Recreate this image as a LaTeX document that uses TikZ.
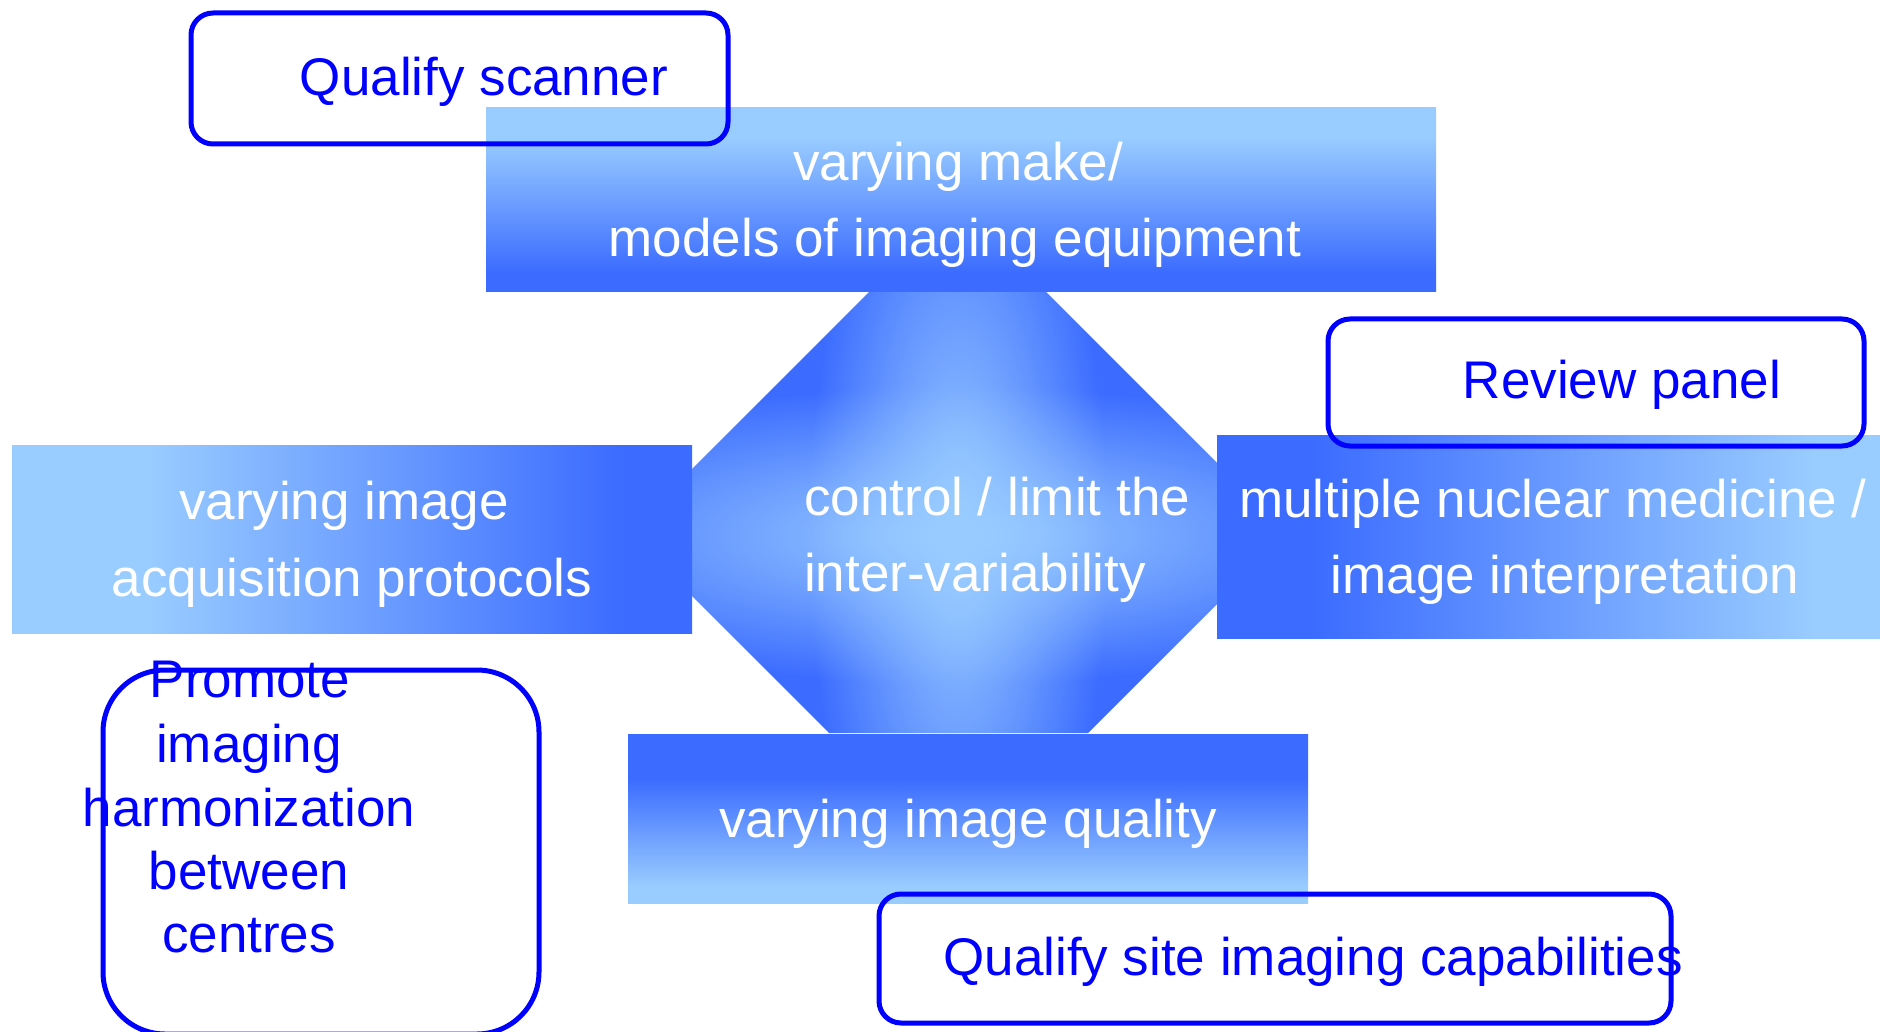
\documentclass[tikz,border=0pt]{standalone}
\usepackage{fontspec}
\setmainfont{Liberation Sans}
\usetikzlibrary{fadings}
\tikzfading[name=radfade, inner color=transparent!0, outer color=transparent!100]
\definecolor{lt}{RGB}{153,204,255}
\definecolor{dk}{RGB}{59,107,255}
\definecolor{pen}{RGB}{0,0,255}
\pgfdeclareverticalshading{topgrad}{100bp}{color(0bp)=(dk); color(30bp)=(dk); color(67bp)=(lt); color(100bp)=(lt)}
\pgfdeclareverticalshading{botgrad}{100bp}{color(0bp)=(lt); color(30bp)=(lt); color(62bp)=(dk); color(100bp)=(dk)}
\pgfdeclarehorizontalshading{leftgrad}{100bp}{color(0bp)=(lt); color(35bp)=(lt); color(70bp)=(dk); color(100bp)=(dk)}
\pgfdeclarehorizontalshading{rightgrad}{100bp}{color(0bp)=(dk); color(32bp)=(dk); color(70bp)=(lt); color(100bp)=(lt)}
\begin{document}
\begin{tikzpicture}[x=1pt,y=-1pt,
  bar/.style={shade, inner sep=0pt, outer sep=0pt, draw=none},
  bigfont/.style={font=\fontsize{53pt}{64pt}\selectfont},
  wtext/.style={bigfont, text=white, inner sep=0pt, anchor=base},
  btext/.style={bigfont, text=pen, inner sep=0pt, anchor=base},
  tbox/.style={draw=pen, line width=5pt, rounded corners=22pt, inner sep=0pt}]
\useasboundingbox (0,0) rectangle (1880,1032);
\clip (0,0) rectangle (1880,1032);

% central octagon with star-like light centre
\begin{scope}
\clip (870,291) -- (1045,291) -- (1217,463) -- (1217,604) -- (1088,733) -- (829,733) -- (692,596) -- (692,469) -- cycle;
\fill[dk] (600,250) rectangle (1300,800);
\fill[lt, path fading=radfade] (958,535) ellipse [x radius=520, y radius=150];
\fill[lt, path fading=radfade] (958,535) ellipse [x radius=150, y radius=450];
\end{scope}

% gradient bars
\node[bar, shading=topgrad, minimum width=950pt, minimum height=184pt] (topbar) at (961,200) {};
\node[bar, shading=leftgrad, minimum width=680pt, minimum height=188pt] (leftbar) at (352,539) {};
\node[bar, shading=rightgrad, minimum width=663pt, minimum height=203pt] (rightbar) at (1548.5,536.5) {};
\node[bar, shading=botgrad, minimum width=680pt, minimum height=169pt] (botbar) at (968,818.5) {};

% white texts
\node[wtext] (t1) at (958,181) {varying make/};
\node[wtext] (t2) at (955,257) {models of imaging equipment};
\node[wtext] (l1) at (344,519) {varying image};
\node[wtext] (l2) at (352,596) {acquisition protocols};
\node[wtext, anchor=base west] (c1) at (804,515) {control / limit the};
\node[wtext, anchor=base west] (c2) at (804,591) {inter-variability};
\node[wtext] (r1) at (1553,517) {multiple nuclear medicine /};
\node[wtext] (r2) at (1565,593) {image interpretation};
\node[wtext] (b1) at (968,837) {varying image quality};

% outlined boxes
\node[tbox, minimum width=537pt, minimum height=131pt] (qs) at (459.5,78.5) {};
\node[tbox, minimum width=536pt, minimum height=127pt] (rp) at (1596,382.5) {};
\node[tbox, rounded corners=62pt, minimum width=436pt, minimum height=364pt] (ph) at (321,852) {};
\node[tbox, minimum width=792pt, minimum height=129pt] (qc) at (1275,958.5) {};

% blue texts
\node[btext] (qst) at (484,96) {Qualify scanner};
\node[btext] (rpt) at (1622,399) {Review panel};
\node[btext] (p1) at (250,697) {Promote};
\node[btext] (p2) at (249,762) {imaging};
\node[btext] (p3) at (249,826) {harmonization};
\node[btext] (p4) at (249,889) {between};
\node[btext] (p5) at (249,952) {centres};
\node[btext] (qct) at (1313,975) {Qualify site imaging capabilities};
\end{tikzpicture}
\end{document}
